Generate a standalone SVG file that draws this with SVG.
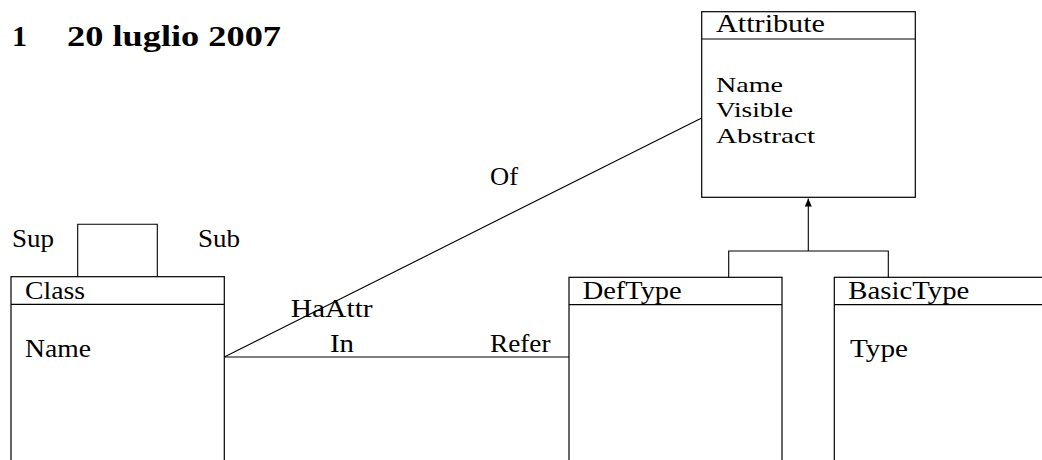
<svg xmlns="http://www.w3.org/2000/svg" width="1042" height="460" viewBox="0 0 1042 460">
<defs>
<style>
.box{fill:none;stroke:#000;stroke-width:1.2}
.ln{fill:none;stroke:#000;stroke-width:1.1}
text{font-family:"Liberation Serif","Times New Roman",serif;font-size:26px;fill:#000}
.title{font-weight:bold;font-size:30px}
.lst{font-size:22px}
</style>
<marker id="arr" viewBox="0 0 8 10" refX="8" refY="5" markerWidth="8" markerHeight="10" markerUnits="userSpaceOnUse" orient="auto">
<path d="M0,1.5 L8,5 L0,8.5 Z" fill="#000"/>
</marker>
</defs>
<rect width="1042" height="460" fill="#fff"/>
<g id="title">
<text class="title" x="12" y="45.7">1</text>
<text class="title" x="67" y="45.7" textLength="214" lengthAdjust="spacingAndGlyphs">20 luglio 2007</text>
</g>
<g id="connectors">
<path class="ln" d="M77.7,276.7 V224.3 H157.3 V276.7"/>
<text x="12" y="246.7" textLength="42" lengthAdjust="spacingAndGlyphs">Sup</text>
<text x="198" y="246.7" textLength="42" lengthAdjust="spacingAndGlyphs">Sub</text>
<path class="ln" d="M224.3,357 L701.7,118"/>
<path class="ln" d="M224.3,357 H569"/>
<text x="290.7" y="316.7" textLength="82" lengthAdjust="spacingAndGlyphs">HaAttr</text>
<text x="330" y="351.7" textLength="24" lengthAdjust="spacingAndGlyphs">In</text>
<text x="490" y="351.7" textLength="60.5" lengthAdjust="spacingAndGlyphs">Refer</text>
<text x="490" y="185" textLength="28" lengthAdjust="spacingAndGlyphs">Of</text>
<path class="ln" d="M728.7,277.3 V251 H888.3 V277.3"/>
<path class="ln" d="M808.3,251 V198.5" marker-end="url(#arr)"/>
</g>
<g id="Attribute">
<rect class="box" x="701.7" y="11.7" width="213.6" height="185.6"/>
<line class="box" x1="701.7" y1="39" x2="915.3" y2="39"/>
<text x="716" y="32" textLength="109" lengthAdjust="spacingAndGlyphs">Attribute</text>
<text class="lst" x="716" y="91.7" textLength="67" lengthAdjust="spacingAndGlyphs">Name</text>
<text class="lst" x="716" y="117.3" textLength="77" lengthAdjust="spacingAndGlyphs">Visible</text>
<text class="lst" x="716" y="143.3" textLength="99" lengthAdjust="spacingAndGlyphs">Abstract</text>
</g>
<g id="Class">
<rect class="box" x="11" y="276.7" width="213.3" height="200"/>
<line class="box" x1="11" y1="304.3" x2="224.3" y2="304.3"/>
<text x="25" y="299" textLength="60" lengthAdjust="spacingAndGlyphs">Class</text>
<text x="25" y="357" textLength="66" lengthAdjust="spacingAndGlyphs">Name</text>
</g>
<g id="DefType">
<rect class="box" x="569" y="277.3" width="213" height="200"/>
<line class="box" x1="569" y1="304.7" x2="782" y2="304.7"/>
<text x="582.7" y="299.3" textLength="99" lengthAdjust="spacingAndGlyphs">DefType</text>
</g>
<g id="BasicType">
<rect class="box" x="834.3" y="277.3" width="213" height="200"/>
<line class="box" x1="834.3" y1="304.7" x2="1047.3" y2="304.7"/>
<text x="848.3" y="299.3" textLength="121" lengthAdjust="spacingAndGlyphs">BasicType</text>
<text x="850" y="356.7" textLength="58" lengthAdjust="spacingAndGlyphs">Type</text>
</g>
</svg>
